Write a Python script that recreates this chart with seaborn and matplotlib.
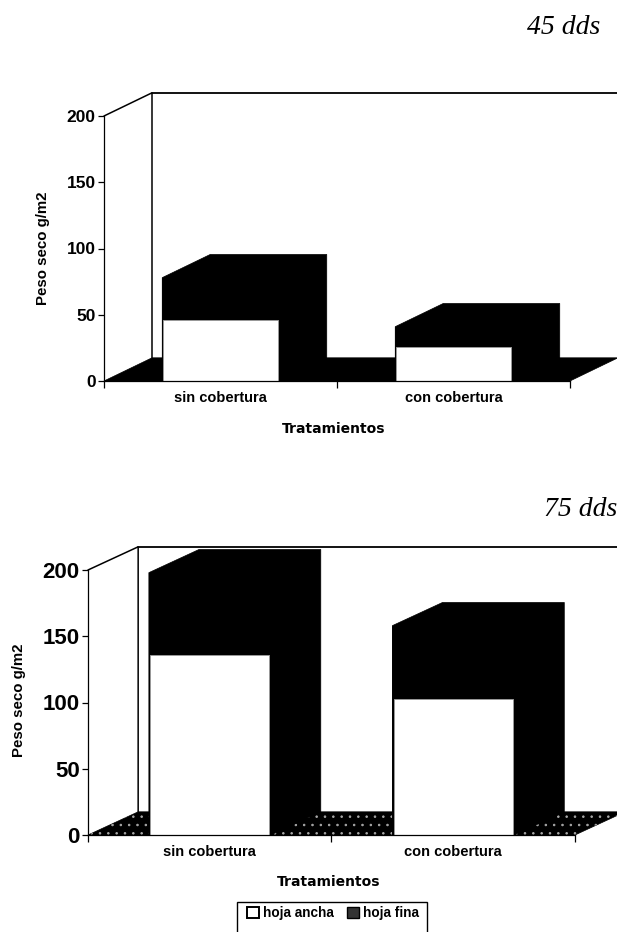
import numpy as np
import pandas as pd
import seaborn as sns
import matplotlib.pyplot as plt
from matplotlib.patches import Polygon, Rectangle

categorias = ['sin cobertura', 'con cobertura']
y_ticks = [0, 50, 100, 150, 200]

# peso seco
ancha_45 = [46, 26]
fina_45 = [32, 15]
ancha_75 = [136, 103]
fina_75 = [62, 55]

sns.set_style('white')
plt.rcParams['font.family'] = ['Liberation Sans', 'DejaVu Sans']
plt.rcParams['hatch.linewidth'] = 0.6

W, H = 617, 932
fig = plt.figure(figsize=(W / 100, H / 100), dpi=100)


def caja(x0, y_base, ancho, alto):
    return [x0 / W, 1 - y_base / H, ancho / W, alto / H]


def panel(pos, ancha, fina, size_y, size_cat, puntos=False):
    ax = fig.add_axes(pos)
    total = np.array(ancha) + np.array(fina)
    df = pd.DataFrame({'cat': categorias, 'ancha': ancha, 'total': total})

    dx, dy = 0.206, 17.5

    sns.barplot(data=df, x='cat', y='total', color='black', saturation=1,
                width=0.5, ax=ax, zorder=3, edgecolor='black', linewidth=0.5)
    n_neg = len(ax.patches)
    sns.barplot(data=df, x='cat', y='ancha', color='white', saturation=1,
                width=0.49, ax=ax, zorder=4, edgecolor='#999999', linewidth=0.7)
    ax.set_xlim(-0.5, 1.5)
    ax.set_ylim(0, 200)

    # profundidad de cada barra negra, incluye la cara frontal para no dejar costura
    for p in ax.patches[:n_neg]:
        x0, x1 = p.get_x(), p.get_x() + p.get_width()
        top = p.get_height()
        ax.add_patch(Polygon([(x0, 0), (x0, top), (x0 + dx, top + dy), (x1 + dx, top + dy),
                              (x1 + dx, dy), (x1, 0)],
                             closed=True, fc='black', ec='black', lw=0.5,
                             zorder=2, clip_on=False))

    # piso y pared del fondo
    piso = [(-0.5, 0), (-0.5 + dx, dy), (1.5 + dx, dy), (1.5, 0)]
    ax.add_patch(Polygon(piso, closed=True, fc='black', ec='black', lw=0.5,
                         zorder=1, clip_on=False))
    if puntos:
        ax.add_patch(Polygon(piso, closed=True, fc='none', ec='#aaaaaa', lw=0,
                             hatch='..', zorder=1.5, clip_on=False))
    ax.plot([-0.5, -0.5 + dx, -0.5 + dx], [200, 200 + dy, dy], color='black',
            lw=1.1, zorder=1, clip_on=False)
    ax.plot([-0.5 + dx, 1.5 + dx], [200 + dy, 200 + dy], color='black',
            lw=1.3, zorder=1, clip_on=False)

    sns.despine(ax=ax, top=True, right=True)
    for s in ['left', 'bottom']:
        ax.spines[s].set_color('black')
        ax.spines[s].set_linewidth(0.9)
        ax.spines[s].set_zorder(5)

    ax.set_yticks(y_ticks)
    ax.set_yticklabels([str(v) for v in y_ticks], fontsize=size_y, fontweight='bold',
                       color='black')
    ax.tick_params(axis='y', left=True, length=4, width=0.9, color='black', pad=2)
    ax.set_xticks([0, 1])
    ax.set_xticklabels(categorias, fontsize=size_cat, fontweight='bold', color='black')
    ax.set_xticks([-0.5, 0.5, 1.5], minor=True)
    ax.tick_params(axis='x', which='major', bottom=False, length=0, pad=7)
    ax.tick_params(axis='x', which='minor', bottom=True, length=5, width=0.9,
                   color='black')
    ax.set_xlabel('')
    ax.set_ylabel('')
    return ax


ax1 = panel(caja(104, 381, 466, 265), ancha_45, fina_45, 12.5, 10.5)
ax2 = panel(caja(88, 835, 487, 265), ancha_75, fina_75, 16, 10.5, puntos=True)

# titulos de cada panel
fig.text(600 / W, 1 - 28 / H, '45 dds', family='Liberation Serif', style='italic',
         fontsize=20, ha='right', va='center', color='black')
fig.text(617 / W, 1 - 509 / H, '75 dds', family='Liberation Serif', style='italic',
         fontsize=20, ha='right', va='center', color='black')

fig.text(43 / W, 1 - 248 / H, 'Peso seco g/m2', rotation=90, fontsize=10.8,
         fontweight='bold', ha='center', va='center', color='black')
fig.text(19 / W, 1 - 700 / H, 'Peso seco g/m2', rotation=90, fontsize=10.8,
         fontweight='bold', ha='center', va='center', color='black')
fig.text(334 / W, 1 - 429 / H, 'Tratamientos', family='DejaVu Sans', fontsize=10,
         fontweight='bold', ha='center', va='center', color='black')
fig.text(329 / W, 1 - 882 / H, 'Tratamientos', family='DejaVu Sans', fontsize=10,
         fontweight='bold', ha='center', va='center', color='black')

# leyenda, abierta por abajo como en el original
fig.add_artist(Rectangle((237 / W, 1 - 945 / H), 190 / W, 43 / H, fc='white',
                         ec='black', lw=1, transform=fig.transFigure))
manejadores = [Rectangle((0, 0), 1, 1, fc='white', ec='black', lw=1.4),
               Rectangle((0, 0), 1, 1, fc='#333333', ec='black', lw=1)]
fig.legend(manejadores, ['hoja ancha', 'hoja fina'], ncol=2, frameon=False,
           loc='center', bbox_to_anchor=(333 / W, 1 - 913 / H),
           prop={'size': 9.8, 'weight': 'bold'}, handlelength=0.9, handleheight=0.9,
           handletextpad=0.3, columnspacing=0.9, labelcolor='black')

fig.savefig('out.png', dpi=100)
